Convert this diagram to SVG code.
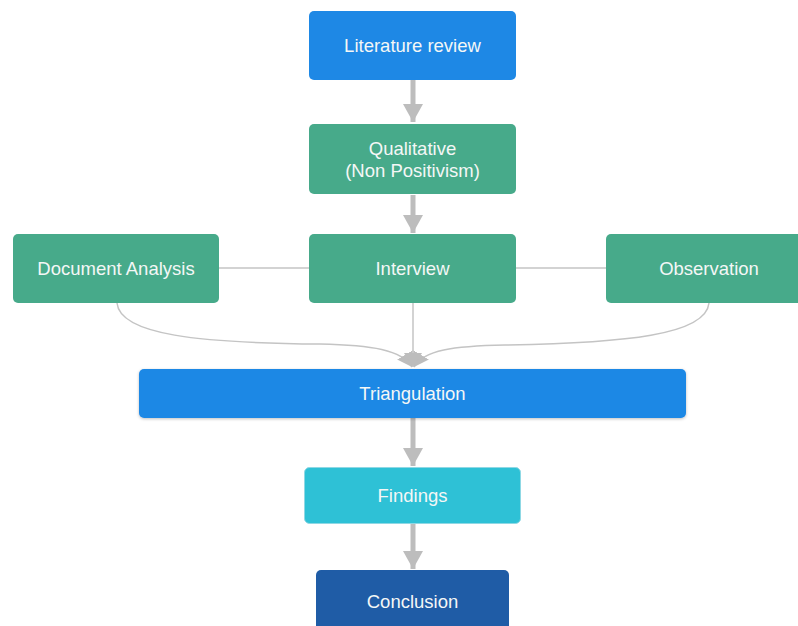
<svg xmlns="http://www.w3.org/2000/svg" width="798" height="626" viewBox="0 0 798 626">
<defs>
<style>
.t{font-family:"Liberation Sans",Arial,sans-serif;font-size:18.5px;fill:#f4f7f6;text-anchor:middle;dominant-baseline:central}
.arr{stroke:#bdbdbd;stroke-width:5;fill:none}
.thin{stroke:#c4c4c4;stroke-width:1.5;fill:none}
.blue{fill:#1e88e5}
.green{fill:#47aa8a}
</style>
<marker id="ah" markerWidth="4" markerHeight="4" refX="3.6" refY="2" orient="auto" markerUnits="strokeWidth">
<path d="M0,0 L3.6,2 L0,4 Z" fill="#bdbdbd"/>
</marker>
<marker id="ah2" markerWidth="18" markerHeight="18" refX="14" refY="9" orient="auto" markerUnits="userSpaceOnUse">
<path d="M0,0 L14,9 L0,18 Z" fill="#bdbdbd"/>
</marker>
<filter id="sh" x="-5%" y="-20%" width="110%" height="150%">
<feDropShadow dx="0" dy="1" stdDeviation="1.5" flood-color="#000" flood-opacity="0.25"/>
</filter>
</defs>
<rect width="798" height="626" fill="#ffffff"/>
<g id="connectors">
<line class="arr" x1="413" y1="80" x2="413" y2="122" marker-end="url(#ah)"/>
<line class="arr" x1="413" y1="195" x2="413" y2="233" marker-end="url(#ah)"/>
<line class="thin" x1="219" y1="268" x2="309" y2="268"/>
<line class="thin" x1="516" y1="268" x2="606" y2="268"/>
<path class="thin" d="M117,303 C120,335 200,343 320,344 C372,345 402,350 412,367" marker-end="url(#ah2)"/>
<path class="thin" d="M709,303 C706,335 625,343 505,345 C453,346 424,350 414,367" marker-end="url(#ah2)"/>
<line class="thin" x1="413" y1="303" x2="413" y2="367" marker-end="url(#ah2)"/>
<line class="arr" x1="413" y1="418" x2="413" y2="466" marker-end="url(#ah)"/>
<line class="arr" x1="413" y1="523" x2="413" y2="569" marker-end="url(#ah)"/>
</g>
<g id="literature">
<rect class="blue" x="309" y="11" width="207" height="69" rx="5"/>
<text class="t" x="412.5" y="45">Literature review</text>
</g>
<g id="qualitative">
<rect class="green" x="309" y="124" width="207" height="70" rx="5"/>
<text class="t" x="412.5" y="148">Qualitative</text>
<text class="t" x="412.5" y="170">(Non Positivism)</text>
</g>
<g id="document">
<rect class="green" x="13" y="234" width="206" height="69" rx="5"/>
<text class="t" x="116" y="268.5">Document Analysis</text>
</g>
<g id="interview">
<rect class="green" x="309" y="234" width="207" height="69" rx="5"/>
<text class="t" x="412.5" y="268.5">Interview</text>
</g>
<g id="observation">
<rect class="green" x="606" y="234" width="206" height="69" rx="5"/>
<text class="t" x="709" y="268.5">Observation</text>
</g>
<g id="triangulation">
<rect class="blue" x="139" y="369" width="547" height="49" rx="5" filter="url(#sh)"/>
<text class="t" x="412.5" y="393.5">Triangulation</text>
</g>
<g id="findings">
<rect x="304.5" y="467.5" width="216" height="56" rx="5" fill="#2ec1d6" stroke="#8fd8e4" stroke-width="1"/>
<text class="t" x="412.5" y="495.5">Findings</text>
</g>
<g id="conclusion">
<rect x="316" y="570" width="193" height="70" rx="5" fill="#1f5ca6"/>
<text class="t" x="412.5" y="601">Conclusion</text>
</g>
</svg>
